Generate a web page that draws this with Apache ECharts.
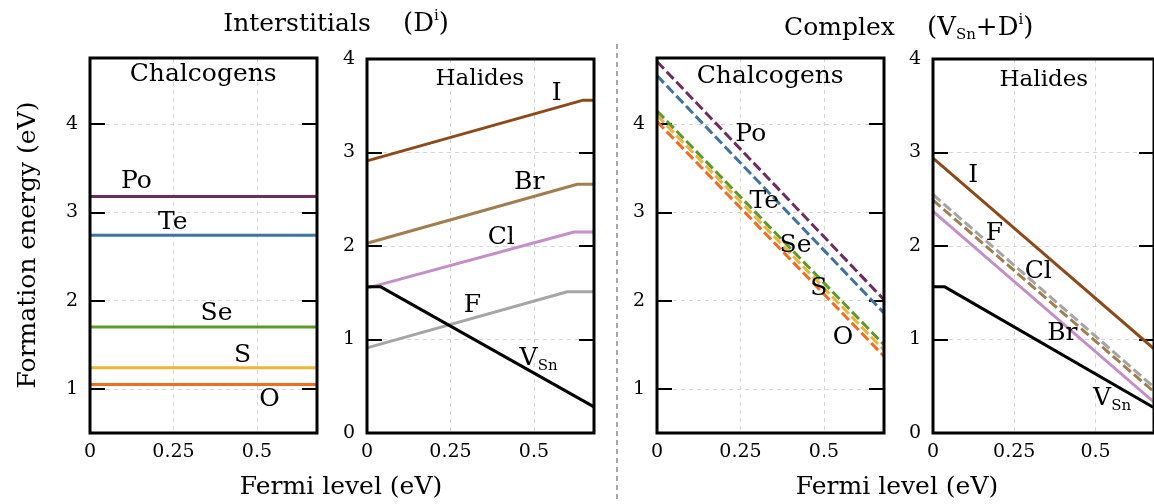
<!DOCTYPE html>
<html>
<head>
<meta charset="utf-8">
<script src="https://cdn.jsdelivr.net/npm/echarts@6/dist/echarts.min.js"></script>
<style>
  html, body { margin: 0; padding: 0; background: #fff; }
  #chart { width: 1154px; height: 504px; }
</style>
</head>
<body>
<div id="chart"></div>
<script>
// ---- Axis ticks -------------------------------------------------------
const fermiMax = 0.68;
const xTickValues = [0, 0.25, 0.5];
const xGridValues = [0.25, 0.5];
const yTicksChalc = [1, 2, 3, 4];
const yTicksHal = [0, 1, 2, 3, 4];
const yGridHal = [1, 2, 3];

// ---- Interstitial chalcogens (flat, neutral) ---------------------------
const intPo = [[0, 3.18], [0.68, 3.18]];
const intTe = [[0, 2.74], [0.68, 2.74]];
const intSe = [[0, 1.70], [0.68, 1.70]];
const intS  = [[0, 1.24], [0.68, 1.24]];
const intO  = [[0, 1.05], [0.68, 1.05]];

// ---- Interstitial halides (+1 then neutral) and the Sn vacancy --------
const intI  = [[0, 2.91], [0.648, 3.56], [0.68, 3.56]];
const intBr = [[0, 2.03], [0.63, 2.66], [0.68, 2.66]];
const intCl = [[0, 1.55], [0.62, 2.15], [0.68, 2.15]];
const intF  = [[0, 0.91], [0.60, 1.51], [0.68, 1.51]];
const vacSn = [[0, 1.565], [0.04, 1.565], [0.68, 0.28]];

// ---- Complexes with chalcogens ----------------------------------------
const cxPo = [[0, 4.71], [0.68, 2.01]];
const cxTe = [[0, 4.55], [0.68, 1.86]];
const cxSe = [[0, 4.15], [0.68, 1.50]];
const cxS  = [[0, 4.10], [0.68, 1.44]];
const cxO  = [[0, 4.03], [0.68, 1.37]];

// ---- Complexes with halides -------------------------------------------
const cxI  = [[0, 2.94], [0.68, 0.90]];
const cxF  = [[0, 2.55], [0.68, 0.49]];
const cxBr = [[0, 2.49], [0.68, 0.44]];
const cxCl = [[0, 2.37], [0.68, 0.33]];
const cxVac = [[0, 1.565], [0.035, 1.565], [0.68, 0.27]];

// ---- In-panel annotations: [x, y, text] -------------------------------
const labelsIntChalc = [[0.339, 4.56, 'Chalcogens'], [0.139, 3.35, 'Po'], [0.248, 2.89, 'Te'],
  [0.379, 1.855, 'Se'], [0.457, 1.38, 'S'], [0.538, 0.88, 'O']];
const labelsIntHal = [[0.338, 3.79, 'Halides'], [0.568, 3.63, 'I'], [0.486, 2.68, 'Br'],
  [0.402, 2.09, 'Cl'], [0.316, 1.36, 'F'], [0.514, 0.80, 'VSn']];
const labelsCxChalc = [[0.339, 4.54, 'Chalcogens'], [0.281, 3.88, 'Po'], [0.321, 3.12, 'Te'],
  [0.415, 2.62, 'Se'], [0.485, 2.14, 'S'], [0.557, 1.58, 'O']];
const labelsCxHal = [[0.341, 3.78, 'Halides'], [0.124, 2.75, 'I'], [0.189, 2.13, 'F'],
  [0.324, 1.73, 'Cl'], [0.398, 1.06, 'Br'], [0.551, 0.37, 'VSn']];

// ---- Styling -----------------------------------------------------------
const FONT = '"DejaVu Serif", "Liberation Serif", serif';
const C = {
  Po: '#6f2c60', Te: '#41739f', Se: '#5c9a2d', S: '#ebb43a', O: '#f26c22',
  I: '#8c4a1b', Br: '#a07e50', Cl: '#c48fc8', F: '#a5a5a5', V: '#000000'
};
const DASH = [10, 4];

const grids = [
  { left: 90,  top: 58, width: 227, height: 375 },
  { left: 367, top: 59, width: 227, height: 374 },
  { left: 657, top: 58, width: 227, height: 375 },
  { left: 933, top: 59, width: 227, height: 374 }
].map(g => Object.assign(g, {
  show: true, borderColor: '#000', borderWidth: 3, backgroundColor: 'transparent', z: 10
}));

const gridLine = { show: true, lineStyle: { color: '#d6d6d6', type: [4, 4], width: 1 } };
const tickFont = { fontSize: 19, fontFamily: FONT, color: '#000' };

const xAxes = grids.map((g, i) => ({
  type: 'value', gridIndex: i, min: 0, max: fermiMax,
  axisLine: { show: false },
  axisTick: { show: false, customValues: xGridValues },
  axisLabel: Object.assign({ customValues: xTickValues, margin: 10 }, tickFont),
  splitLine: gridLine
}));

function yPair(i, isChalc) {
  const range = isChalc ? { min: 0.5, max: 4.75 } : { min: 0, max: 4 };
  const tickVals = isChalc ? yTicksChalc : yGridHal;
  const labelVals = isChalc ? yTicksChalc : yTicksHal;
  const tick = { show: true, inside: true, length: 15, lineStyle: { color: '#000', width: 2 }, customValues: tickVals };
  return [
    Object.assign({
      type: 'value', gridIndex: i, position: 'left',
      axisLine: { show: false }, axisTick: tick,
      axisLabel: Object.assign({ customValues: labelVals, margin: 12 }, tickFont),
      splitLine: gridLine
    }, range),
    Object.assign({
      type: 'value', gridIndex: i, position: 'right',
      axisLine: { show: false }, axisTick: tick,
      axisLabel: { show: false }, splitLine: { show: false }
    }, range)
  ];
}
const yAxes = [].concat(yPair(0, true), yPair(1, false), yPair(2, true), yPair(3, false));

function line(gi, name, pts, color, dashed) {
  return {
    type: 'line', name, xAxisIndex: gi, yAxisIndex: gi * 2, data: pts,
    symbol: 'none', silent: true, animation: false, z: 3,
    lineStyle: { color, width: 3, type: dashed ? DASH : 'solid', cap: 'butt' }
  };
}

const labelRich = {
  m: { fontSize: 25, fontFamily: FONT, color: '#000', lineHeight: 30, verticalAlign: 'middle' },
  s: { fontSize: 15, fontFamily: FONT, color: '#000', lineHeight: 12, verticalAlign: 'bottom' },
  wide: { fontSize: 25, fontFamily: FONT, color: '#000' },
  head: { fontSize: 23, fontFamily: FONT, color: '#000' }
};
function labelText(name) {
  if (name === 'VSn') return '{m|V}{s|Sn}';
  if (name === 'Chalcogens') return '{wide|Chalcogens}';
  if (name === 'Halides') return '{head|Halides}';
  return name;
}
function labels(gi, list) {
  return {
    type: 'scatter', xAxisIndex: gi, yAxisIndex: gi * 2, silent: true, animation: false, z: 5,
    symbolSize: 1, itemStyle: { color: 'rgba(0,0,0,0)', opacity: 1 },
    data: list.map(d => ({ value: [d[0], d[1]], name: d[2] })),
    label: {
      show: true, position: 'inside', color: '#000', opacity: 1, textBorderWidth: 0,
      fontFamily: FONT, fontSize: 25,
      formatter: p => labelText(p.name),
      rich: labelRich
    }
  };
}

const series = [
  line(0, 'Po', intPo, C.Po), line(0, 'Te', intTe, C.Te), line(0, 'Se', intSe, C.Se),
  line(0, 'S', intS, C.S), line(0, 'O', intO, C.O),
  line(1, 'I', intI, C.I), line(1, 'Br', intBr, C.Br), line(1, 'Cl', intCl, C.Cl),
  line(1, 'F', intF, C.F), line(1, 'VSn', vacSn, C.V),
  line(2, 'Po', cxPo, C.Po, true), line(2, 'Te', cxTe, C.Te, true), line(2, 'Se', cxSe, C.Se, true),
  line(2, 'S', cxS, C.S, true), line(2, 'O', cxO, C.O, true),
  line(3, 'I', cxI, C.I), line(3, 'Cl', cxCl, C.Cl), line(3, 'Br', cxBr, C.Br, true),
  line(3, 'F', cxF, C.F, true), line(3, 'VSn', cxVac, C.V),
  labels(0, labelsIntChalc), labels(1, labelsIntHal), labels(2, labelsCxChalc), labels(3, labelsCxHal)
];

const supRich = {
  sup: { fontSize: 15, fontFamily: FONT, fill: '#000', lineHeight: 14, verticalAlign: 'top' },
  sub: { fontSize: 15, fontFamily: FONT, fill: '#000', lineHeight: 14, verticalAlign: 'bottom' }
};
function txt(x, y, text, size, extra) {
  return {
    type: 'text', x, y, silent: true,
    style: Object.assign({
      text, fontSize: size, fontFamily: FONT, fill: '#000',
      align: 'left', verticalAlign: 'middle', lineHeight: 30, rich: supRich
    }, extra || {})
  };
}

const graphic = [
  txt(297, 24, 'Interstitials', 25, { align: 'center' }),
  txt(403, 24, '(D{sup|i})', 26),
  txt(784, 28, 'Complex', 25),
  txt(927, 28, '(V{sub|Sn}+D{sup|i})', 26),
  txt(341, 487, 'Fermi level (eV)', 25, { align: 'center' }),
  txt(897, 487, 'Fermi level (eV)', 25, { align: 'center' }),
  Object.assign(txt(28, 245, 'Formation energy (eV)', 25, { align: 'center' }), { rotation: Math.PI / 2 }),
  {
    type: 'line', silent: true,
    shape: { x1: 617, y1: 44, x2: 617, y2: 502 },
    style: { stroke: '#8a8a8a', lineWidth: 1.5, lineDash: [5, 4] }
  }
];

const chart = echarts.init(document.getElementById('chart'), null, { renderer: 'canvas' });
chart.setOption({
  animation: false,
  backgroundColor: '#fff',
  grid: grids,
  xAxis: xAxes,
  yAxis: yAxes,
  series,
  graphic
});
</script>
</body>
</html>
